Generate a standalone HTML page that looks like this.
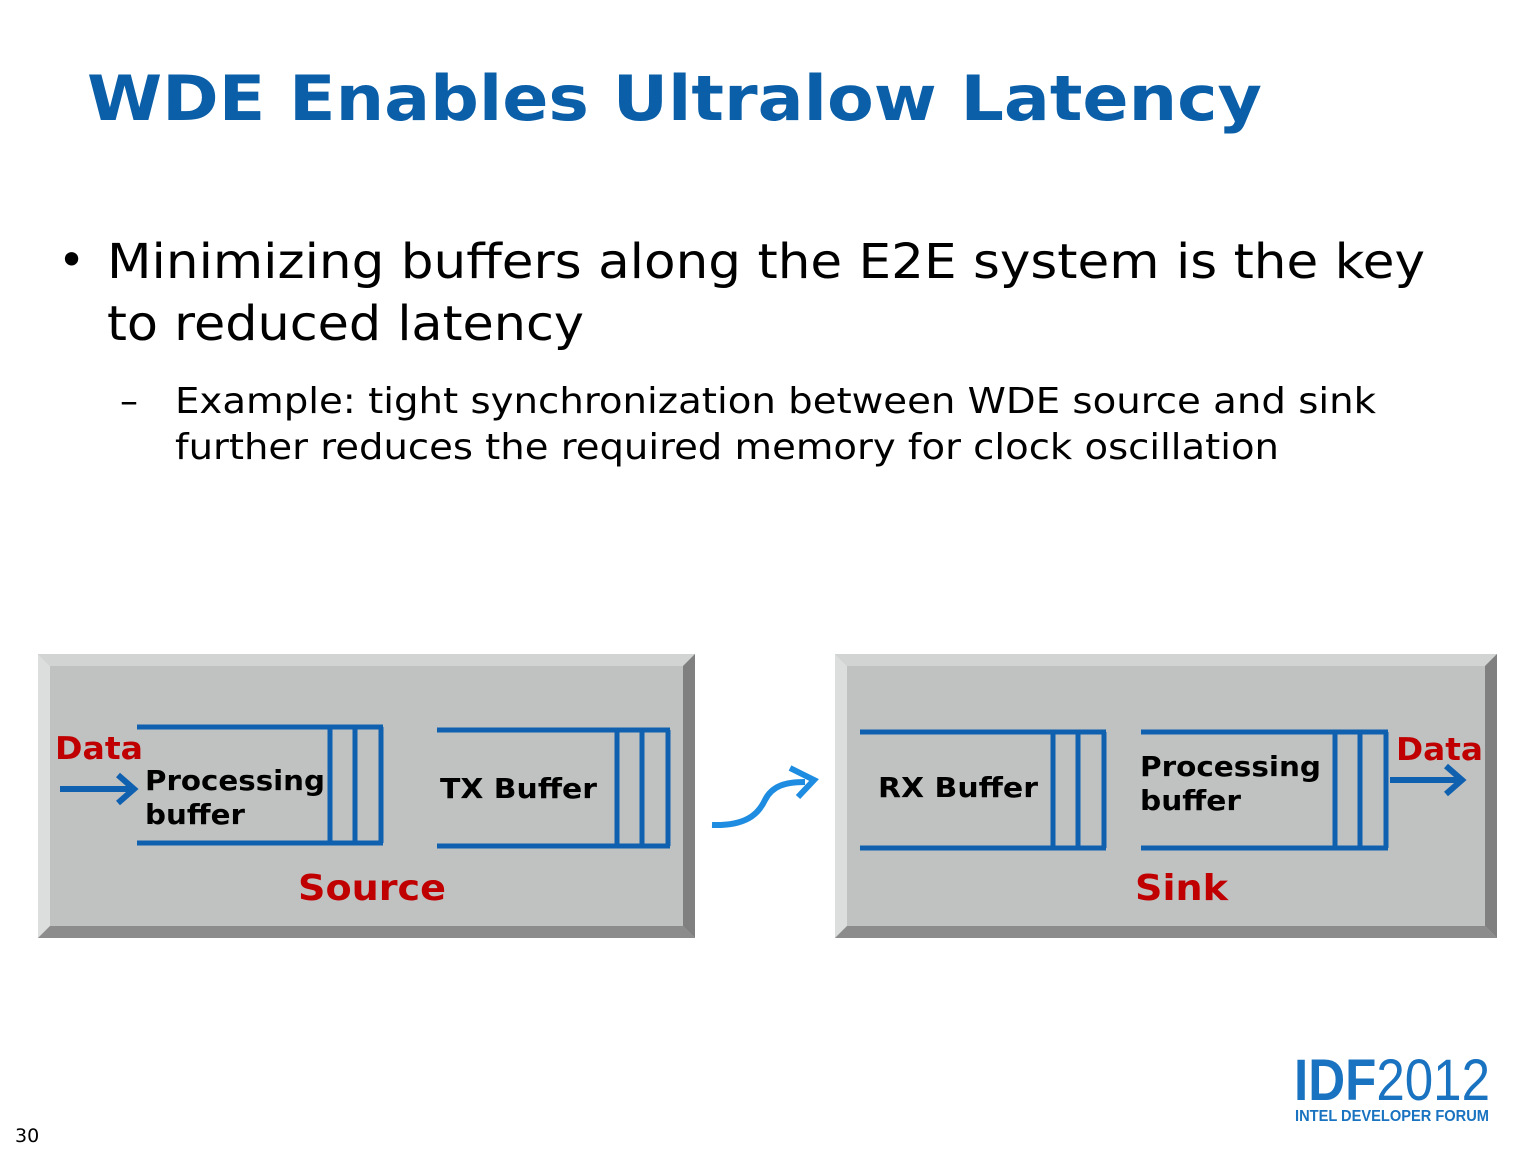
<!DOCTYPE html>
<html><head><meta charset="utf-8"><style>
html,body{margin:0;padding:0;background:#fff;}
svg{display:block;}
</style></head><body>
<svg width="1540" height="1155" viewBox="0 0 1540 1155" xmlns="http://www.w3.org/2000/svg" font-family="'DejaVu Sans','Liberation Sans',sans-serif">
<rect width="1540" height="1155" fill="#fff"/>
<text x="87" y="120" font-size="62" font-weight="bold" fill="#0a5fa8" textLength="1175" lengthAdjust="spacingAndGlyphs">WDE Enables Ultralow Latency</text>
<text x="58" y="276" font-size="46" fill="#000">•</text>
<text x="107" y="278" font-size="48" fill="#000" textLength="1318" lengthAdjust="spacingAndGlyphs">Minimizing buffers along the E2E system is the key</text>
<text x="107" y="340" font-size="48" fill="#000" textLength="477" lengthAdjust="spacingAndGlyphs">to reduced latency</text>
<text x="120" y="413" font-size="36" fill="#000">–</text>
<text x="175" y="413" font-size="36" fill="#000" textLength="1201" lengthAdjust="spacingAndGlyphs">Example: tight synchronization between WDE source and sink</text>
<text x="175" y="459" font-size="36" fill="#000" textLength="1104" lengthAdjust="spacingAndGlyphs">further reduces the required memory for clock oscillation</text>

<!-- Source box -->
<g>
<rect x="38" y="654" width="657" height="284" fill="#c0c2c2"/>
<polygon points="38,654 695,654 683,666 50,666" fill="#d2d4d4"/>
<polygon points="38,654 50,666 50,926 38,938" fill="#dcdede"/>
<polygon points="695,654 695,938 683,926 683,666" fill="#808080"/>
<polygon points="38,938 50,926 683,926 695,938" fill="#8c8c8c"/>
</g>
<g>
<rect x="835" y="654" width="662" height="284" fill="#c0c2c2"/>
<polygon points="835,654 1497,654 1485,666 847,666" fill="#d2d4d4"/>
<polygon points="835,654 847,666 847,926 835,938" fill="#dcdede"/>
<polygon points="1497,654 1497,938 1485,926 1485,666" fill="#808080"/>
<polygon points="835,938 847,926 1485,926 1497,938" fill="#8c8c8c"/>
</g>

<g stroke="#1060b0" stroke-width="5" fill="none">
<path d="M137 727 H383 M137 843 H383 M330 727 V843 M355 727 V843 M381 727 V843"/>
<path d="M437 730 H670 M437 846 H670 M617 730 V846 M642 730 V846 M668 730 V846"/>
<path d="M860 732 H1106 M860 848 H1106 M1053 732 V848 M1078 732 V848 M1104 732 V848"/>
<path d="M1141 732 H1388 M1141 848 H1388 M1335 732 V848 M1360 732 V848 M1386 732 V848"/>
<path d="M60 789 H132 M118 775 L134 789 L118 803" stroke-width="6"/>
<path d="M1390 780 H1460 M1446 766 L1462 780 L1446 794" stroke-width="6"/>
</g>
<path d="M712 825 C745 826 758 815 765 800 C772 786 785 782 805 782" stroke="#1e8ce0" stroke-width="6" fill="none"/>
<path d="M790 768 L814 780 L798 797" stroke="#1e8ce0" stroke-width="6" fill="none"/>

<g font-weight="bold">
<text x="55" y="759" font-size="31" fill="#c00000" textLength="88" lengthAdjust="spacingAndGlyphs">Data</text>
<text x="145" y="790" font-size="28" fill="#000" textLength="180" lengthAdjust="spacingAndGlyphs">Processing</text>
<text x="145" y="824" font-size="28" fill="#000" textLength="100" lengthAdjust="spacingAndGlyphs">buffer</text>
<text x="440" y="798" font-size="28" fill="#000" textLength="157" lengthAdjust="spacingAndGlyphs">TX Buffer</text>
<text x="298" y="900" font-size="36" fill="#c00000" textLength="148" lengthAdjust="spacingAndGlyphs">Source</text>
<text x="878" y="797" font-size="28" fill="#000" textLength="160" lengthAdjust="spacingAndGlyphs">RX Buffer</text>
<text x="1140" y="776" font-size="28" fill="#000" textLength="181" lengthAdjust="spacingAndGlyphs">Processing</text>
<text x="1140" y="810" font-size="28" fill="#000" textLength="101" lengthAdjust="spacingAndGlyphs">buffer</text>
<text x="1396" y="760" font-size="31" fill="#c00000" textLength="87" lengthAdjust="spacingAndGlyphs">Data</text>
<text x="1135" y="900" font-size="36" fill="#c00000" textLength="93" lengthAdjust="spacingAndGlyphs">Sink</text>
</g>

<text x="15" y="1142" font-size="19" fill="#000">30</text>
<text x="1294" y="1100" font-size="58" fill="#1a73c0" font-family="'Liberation Sans',sans-serif" textLength="196" lengthAdjust="spacingAndGlyphs"><tspan font-weight="bold">IDF</tspan>2012</text>
<text x="1295" y="1121" font-size="16" font-weight="bold" fill="#1a73c0" font-family="'Liberation Sans',sans-serif" textLength="194" lengthAdjust="spacingAndGlyphs">INTEL DEVELOPER FORUM</text>
</svg>
</body></html>
